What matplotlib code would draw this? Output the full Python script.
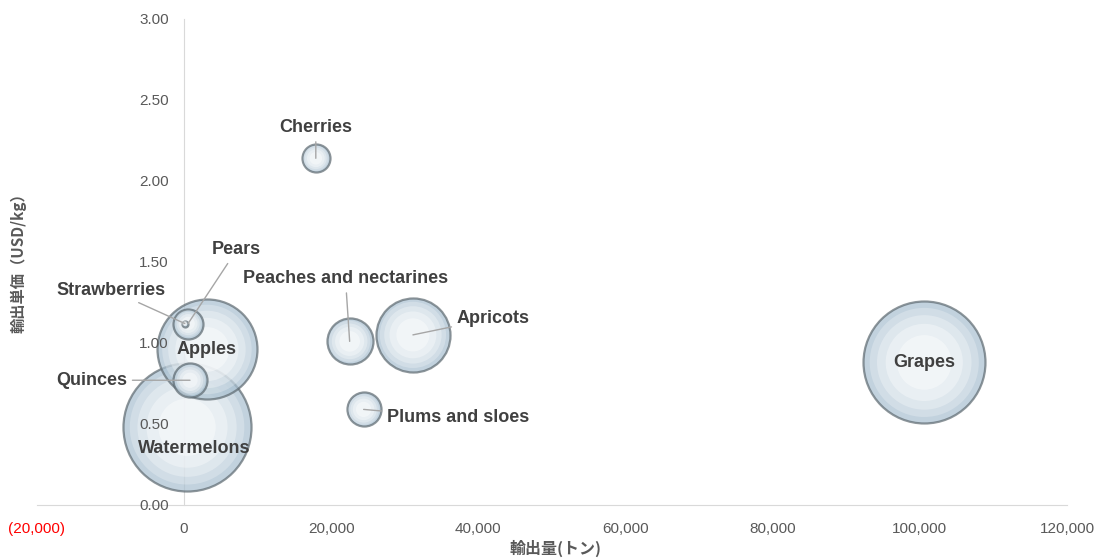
import matplotlib
matplotlib.use("Agg")
import matplotlib.pyplot as plt
from matplotlib.ticker import FuncFormatter
import numpy as np

# export volume (t), unit price (USD/kg), bubble size
fruits = ["Grapes", "Watermelons", "Apples", "Apricots", "Peaches and nectarines",
          "Quinces", "Plums and sloes", "Pears", "Cherries", "Strawberries"]
volume = [100600, 400, 3100, 31100, 22500, 800, 24400, 540, 17900, 100]
price = [0.88, 0.48, 0.96, 1.05, 1.01, 0.77, 0.59, 1.12, 2.14, 1.12]
size = [3720, 4100, 2500, 1370, 530, 290, 290, 225, 196, 9]

x_ticks = [-20000, 0, 20000, 40000, 60000, 80000, 100000, 120000]
y_ticks = [0.0, 0.5, 1.0, 1.5, 2.0, 2.5, 3.0]

# label offsets in points (layout only)
offsets = {
    "Grapes": (0, 0), "Watermelons": (5, -15), "Apples": (0, 0),
    "Apricots": (58, 12), "Peaches and nectarines": (-3, 45),
    "Quinces": (-71, 0), "Plums and sloes": (68, -6), "Pears": (35, 53),
    "Cherries": (0, 22), "Strawberries": (-53, 24),
}
no_leader = ["Grapes", "Watermelons", "Apples"]

plt.rcParams['font.family'] = ['Liberation Sans', 'DejaVu Sans']

fig = plt.figure(figsize=(11, 5.58), dpi=100)
ax = fig.add_axes([0.0336, 0.095, 0.9364, 0.871])

k = (2 * 0.72) ** 2
s = np.array(size) * k
order = np.argsort(s)[::-1]
xs = np.array(volume)[order]
ys = np.array(price)[order]
ss = s[order]

for i in range(len(xs)):
    ax.scatter(xs[i], ys[i], s=ss[i], color='#a9c0d0', edgecolor='#5d6970',
               linewidth=1.6, alpha=0.7, zorder=3 + i)
    # glassy highlight, layered toward the centre
    for f, a in [(0.8, 0.25), (0.6, 0.3), (0.4, 0.35), (0.2, 0.4)]:
        ax.scatter(xs[i], ys[i], s=ss[i] * f, color='white', edgecolor='none',
                   alpha=a, zorder=3 + i)

for name, x, y in zip(fruits, volume, price):
    dx, dy = offsets[name]
    props = None
    if name not in no_leader:
        props = dict(arrowstyle='-', color='#a6a6a6', lw=1, shrinkA=2, shrinkB=0)
    ax.annotate(name, xy=(x, y), xytext=(dx, dy), textcoords='offset points',
                ha='center', va='center', fontsize=13, fontweight='bold',
                color='#404040', arrowprops=props, zorder=30)

ax.set_xlim(-20000, 120000)
ax.set_ylim(0, 3.0)
ax.set_xticks(x_ticks)
ax.set_yticks(y_ticks)


def fmt_x(v, pos):
    if v < 0:
        return "({:,.0f})".format(-v)
    return "{:,.0f}".format(v)


ax.xaxis.set_major_formatter(FuncFormatter(fmt_x))
ax.yaxis.set_major_formatter(FuncFormatter(lambda v, p: "{:.2f}".format(v)))

ax.spines['left'].set_position(('data', 0))
ax.spines['bottom'].set_position(('data', 0))
for sp in ['top', 'right']:
    ax.spines[sp].set_visible(False)
ax.spines['left'].set_color('#d9d9d9')
ax.spines['bottom'].set_color('#d9d9d9')
ax.spines['left'].set_zorder(1)
ax.spines['bottom'].set_zorder(1)
ax.yaxis.set_zorder(40)
ax.tick_params(axis='both', length=0, labelsize=11, labelcolor='#595959')
ax.tick_params(axis='x', pad=12)
ax.tick_params(axis='y', pad=11)
for lbl in ax.get_xticklabels():
    if lbl.get_text().startswith("("):
        lbl.set_color('red')

fig.text(0.505, 0.018, "輸出量(トン)", ha='center', va='center', fontsize=11.5,
         fontweight='bold', color='#595959', family=['Noto Sans CJK JP', 'DejaVu Sans'])
fig.text(0.017, 0.535, "輸出単価（USD/kg）", ha='center', va='center', fontsize=11,
         fontweight='bold', color='#595959', rotation=90,
         family=['Noto Sans CJK JP', 'DejaVu Sans'])

fig.savefig("out.png", dpi=100)
